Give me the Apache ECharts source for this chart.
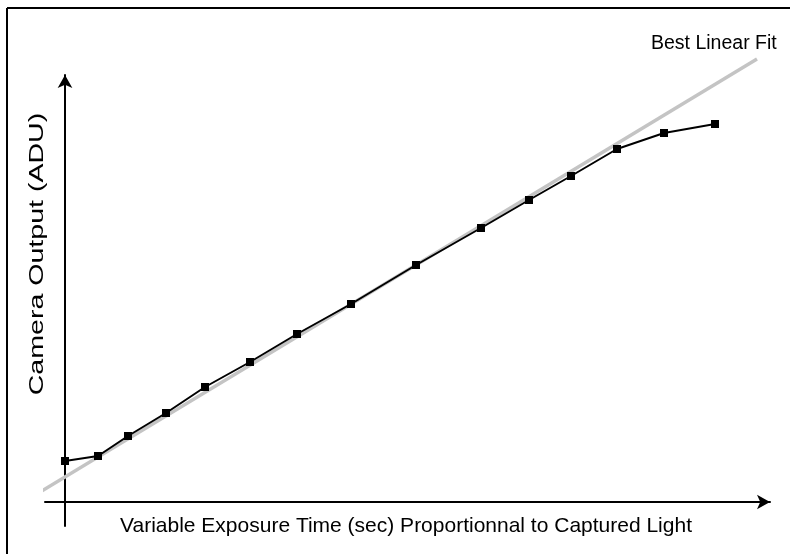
<!DOCTYPE html>
<html>
<head>
<meta charset="utf-8">
<script src="https://cdn.jsdelivr.net/npm/echarts@6/dist/echarts.min.js"></script>
<style>
html, body { margin: 0; padding: 0; background: #fff; }
#chart { width: 790px; height: 554px; }
</style>
</head>
<body>
<div id="chart"></div>
<script>
// measured camera response (arbitrary units, no ticks on the original)
var exposure = [0, 3.3, 6.3, 10.1, 14.0, 18.5, 23.2, 28.6, 35.1, 41.6, 46.4, 50.6, 55.2, 59.9, 65.0];
var output = [4.1, 4.6, 6.6, 8.9, 11.5, 14.0, 16.8, 19.8, 23.7, 27.4, 30.2, 32.6, 35.3, 36.9, 37.8];

// ends of the best linear fit
var fitX = [-2.5, 69.2];
var fitY = [1.0, 44.3];

var xTitle = 'Variable Exposure Time (sec) Proportionnal to Captured Light';
var yTitle = 'Camera Output (ADU)';
var fitTitle = 'Best Linear Fit';

var font = '"Liberation Sans", Arial, sans-serif';

var measured = [];
for (var i = 0; i < exposure.length; i++) {
	measured.push([exposure[i], output[i]]);
}
var fit = [];
for (var j = 0; j < fitX.length; j++) {
	fit.push([fitX[j], fitY[j]]);
}

var axisLine = {
	show: true,
	onZero: true,
	symbol: ['none', 'arrow'],
	symbolSize: [11, 13],
	lineStyle: { color: '#000', width: 2 }
};

var myChart = echarts.init(document.getElementById('chart'));
var option = {
	animation: false,
	backgroundColor: '#fff',
	grid: { left: 45, right: 20, top: 75, bottom: 28, containLabel: false, outerBoundsMode: 'none' },
	xAxis: {
		type: 'value',
		min: -2.0,
		max: 70.5,
		axisLine: axisLine,
		axisTick: { show: false },
		axisLabel: { show: false },
		splitLine: { show: false }
	},
	yAxis: {
		type: 'value',
		min: -2.4,
		max: 42.7,
		axisLine: axisLine,
		axisTick: { show: false },
		axisLabel: { show: false },
		splitLine: { show: false }
	},
	graphic: [
		{ type: 'line', shape: { x1: 7, y1: 8, x2: 790, y2: 8 }, style: { stroke: '#000', lineWidth: 2 } },
		{ type: 'line', shape: { x1: 7, y1: 8, x2: 7, y2: 554 }, style: { stroke: '#000', lineWidth: 2 } },
		{
			type: 'text', x: 406, y: 526,
			style: { text: xTitle, font: '21px ' + font, fill: '#000', textAlign: 'center', textVerticalAlign: 'middle' }
		},
		{
			type: 'text', x: 37, y: 254, rotation: Math.PI / 2, scaleX: 1.36,
			style: { text: yTitle, font: '21px ' + font, fill: '#000', textAlign: 'center', textVerticalAlign: 'middle' }
		},
		{
			type: 'text', x: 651, y: 44,
			style: { text: fitTitle, font: '19.5px ' + font, fill: '#000', textAlign: 'left', textVerticalAlign: 'middle' }
		}
	],
	series: [{
		name: 'fit',
		type: 'line',
		data: fit,
		symbol: 'none',
		clip: false,
		silent: true,
		z: 1,
		lineStyle: { color: '#c4c4c4', width: 3.5 }
	}, {
		name: 'output',
		type: 'line',
		data: measured,
		symbol: 'rect',
		symbolSize: 8,
		z: 3,
		itemStyle: { color: '#000' },
		lineStyle: { color: '#000', width: 2 }
	}]
};
myChart.setOption(option);
</script>
</body>
</html>
